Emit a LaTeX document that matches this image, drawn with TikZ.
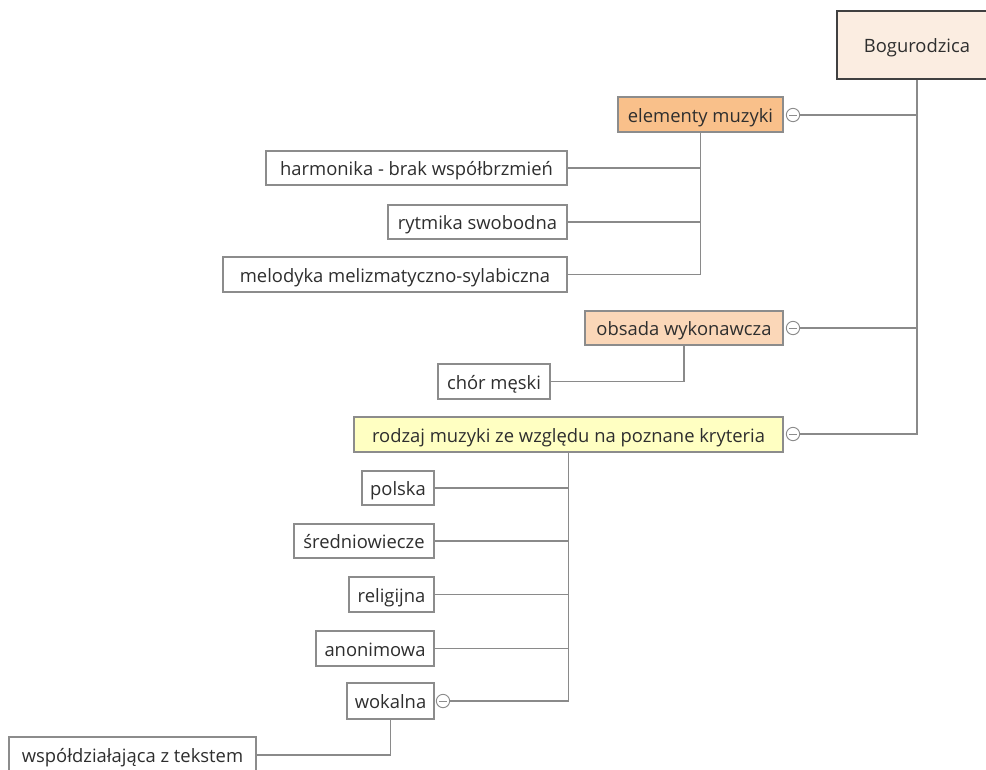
\documentclass[tikz,border=0pt]{standalone}
\usepackage{fontspec}
\setmainfont{Open Sans}
\definecolor{lineg}{HTML}{8A8A8A}
\definecolor{boxg}{HTML}{8C8C8C}
\definecolor{txt}{HTML}{2E2E2E}
\definecolor{rootfill}{HTML}{FBEDE1}
\definecolor{orangefill}{HTML}{F9C08A}
\definecolor{peachfill}{HTML}{FBD7B8}
\definecolor{yellowfill}{HTML}{FFFFC2}
\tikzset{
  box/.style={draw=boxg, line width=0.9pt, fill=white, inner sep=0pt, text=txt,
    font=\fontsize{13.8}{16}\selectfont, text height=12pt, text depth=0.4pt, anchor=center},
  conn/.style={draw=lineg, line width=0.8pt},
  coll/.style={circle, draw=boxg, line width=0.7pt, fill=white, minimum size=10pt, inner sep=0pt},
}
\newcommand{\bx}[7]{% name, x1, x2, y1, y2, fill, text
  \node[box, fill=#6, minimum width={(#3-#2)*0.75pt}, minimum height={(#5-#4)*0.75pt}]
    (#1) at ({(#2+#3)/2},{(#4+#5)/2}) {#7};}
\newcommand{\coll}[3]{% name, x, y
  \node[coll] (#1) at (#2,#3) {};
  \draw[boxg, line width=0.7pt] ($(#1.center)+(-2.8pt,0)$) -- ($(#1.center)+(2.8pt,0)$);}
\usetikzlibrary{calc}
\begin{document}
\begin{tikzpicture}[x=0.75pt, y=-0.75pt]
\useasboundingbox (0,0) rectangle (986,769);
\clip (0,0) rectangle (986,769);
\fill[white] (0,0) rectangle (986,769);
% root
\node[box, draw=black!75, line width=1.3pt, fill=rootfill, minimum width={160*0.75pt}, minimum height={68*0.75pt}]
  (root) at (917,45) {Bogurodzica};
% level 1
\bx{elem}{618}{783}{97}{132}{orangefill}{elementy muzyki}
\bx{obs}{585}{783}{311}{345}{peachfill}{obsada wykonawcza}
\bx{rodz}{354}{783}{417}{452}{yellowfill}{rodzaj muzyki ze względu na poznane kryteria}
\coll{celem}{793}{115}
\coll{cobs}{793}{328}
\coll{crodz}{793}{434}
% level 2
\bx{harm}{266}{567}{151}{185}{white}{harmonika - brak współbrzmień}
\bx{rytm}{388}{567}{205}{239}{white}{rytmika swobodna}
\bx{melo}{223}{567}{257}{292}{white}{melodyka melizmatyczno-sylabiczna}
\bx{chor}{438}{550}{364}{399}{white}{chór męski}
\bx{pol}{362}{434}{471}{505}{white}{polska}
\bx{sred}{294}{434}{524}{558}{white}{średniowiecze}
\bx{rel}{349}{434}{577}{612}{white}{religijna}
\bx{anon}{316}{434}{631}{666}{white}{anonimowa}
\bx{wok}{347}{434}{683}{719}{white}{wokalna}
\coll{cwok}{443}{701}
\bx{wspol}{9}{256}{737}{773}{white}{współdziałająca z tekstem}
% connectors
\draw[conn] (root.south) |- (celem.east);
\draw[conn] (root.south) |- (cobs.east);
\draw[conn] (root.south) |- (crodz.east);
\draw[conn] (harm.east) -| (elem.south);
\draw[conn] (rytm.east) -| (elem.south);
\draw[conn] (melo.east) -| (elem.south);
\draw[conn] (chor.east) -| (obs.south);
\draw[conn] (pol.east) -| (rodz.south);
\draw[conn] (sred.east) -| (rodz.south);
\draw[conn] (rel.east) -| (rodz.south);
\draw[conn] (anon.east) -| (rodz.south);
\draw[conn] (cwok.east) -| (rodz.south);
\draw[conn] (wspol.east) -| (wok.south);
\end{tikzpicture}
\end{document}
